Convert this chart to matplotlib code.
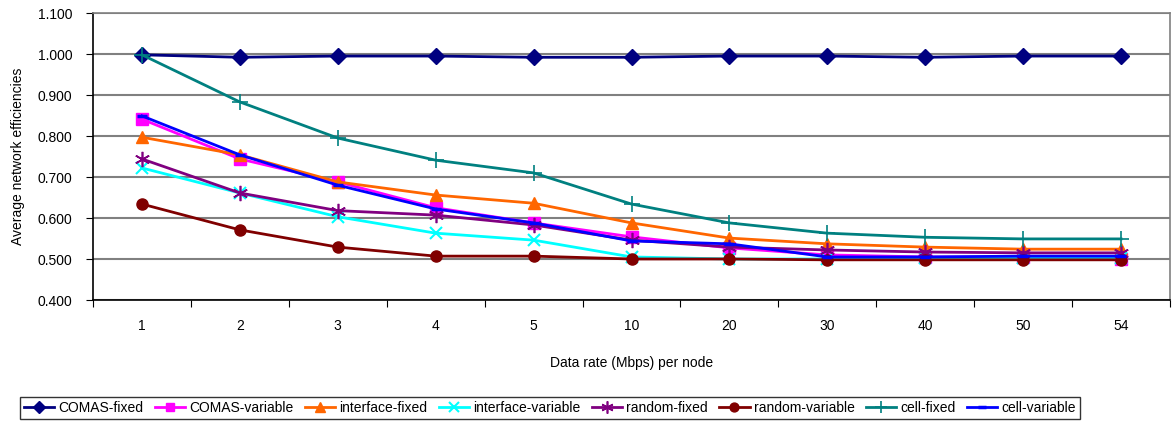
import matplotlib
matplotlib.use("Agg")
import matplotlib.pyplot as plt
import numpy as np

categories = ["1", "2", "3", "4", "5", "10", "20", "30", "40", "50", "54"]
comas_fixed = [0.998, 0.992, 0.995, 0.995, 0.992, 0.992, 0.995, 0.995, 0.992, 0.995, 0.995]
comas_variable = [0.841, 0.744, 0.688, 0.625, 0.588, 0.554, 0.527, 0.510, 0.505, 0.505, 0.500]
interface_fixed = [0.797, 0.754, 0.688, 0.656, 0.636, 0.588, 0.551, 0.537, 0.529, 0.524, 0.524]
interface_variable = [0.722, 0.661, 0.603, 0.563, 0.546, 0.505, 0.500, 0.500, 0.503, 0.503, 0.503]
random_fixed = [0.744, 0.661, 0.618, 0.607, 0.583, 0.546, 0.529, 0.522, 0.517, 0.515, 0.515]
random_variable = [0.634, 0.571, 0.529, 0.507, 0.507, 0.500, 0.500, 0.498, 0.498, 0.498, 0.498]
cell_fixed = [0.998, 0.883, 0.795, 0.741, 0.710, 0.634, 0.588, 0.563, 0.553, 0.549, 0.549]
cell_variable = [0.849, 0.754, 0.680, 0.622, 0.588, 0.544, 0.537, 0.505, 0.505, 0.507, 0.507]

series = [
    ("COMAS-fixed", comas_fixed, "#000080", "D", 8, 1.0),
    ("COMAS-variable", comas_variable, "#FF00FF", "s", 8, 1.0),
    ("interface-fixed", interface_fixed, "#FF6600", "^", 9, 1.0),
    ("interface-variable", interface_variable, "#00FFFF", "x", 9, 1.5),
    ("random-fixed", random_fixed, "#800080", (6, 2, 0), 11, 1.2),
    ("random-variable", random_variable, "#800000", "o", 8, 1.0),
    ("cell-fixed", cell_fixed, "#008080", "+", 11, 1.2),
    ("cell-variable", cell_variable, "#0000FF", "_", 7, 2.5),
]

plt.rcParams['font.family'] = ['Liberation Sans', 'DejaVu Sans']
fig = plt.figure(figsize=(11.72, 4.23), dpi=100)
ax = fig.add_axes([93/1172, 1 - 300/423, (1170-93)/1172, (300-13)/423])

x = np.arange(len(categories))
handles = []
for name, vals, color, marker, ms, mew in series:
    h, = ax.plot(x, vals, color=color, lw=2, marker=marker, markersize=ms,
                 markeredgewidth=mew, markeredgecolor=color, markerfacecolor=color,
                 label=name, clip_on=False, zorder=3)
    handles.append(h)

ax.set_xlim(-0.5, len(categories) - 0.5)
ax.set_ylim(0.4, 1.1)
ax.set_yticks(np.arange(0.4, 1.1001, 0.1))
ax.yaxis.set_major_formatter(matplotlib.ticker.FormatStrFormatter('%.3f'))
ax.yaxis.grid(True, color='#808080', lw=1.5)
ax.set_axisbelow(True)

ax.set_xticks(np.arange(-0.5, len(categories), 1.0))
ax.set_xticklabels([])
ax.set_xticks(x, minor=True)
ax.set_xticklabels(categories, minor=True)
ax.tick_params(axis='x', which='major', length=5, direction='out', color='black')
ax.tick_params(axis='x', which='minor', length=0, pad=14, labelsize=10)
ax.tick_params(axis='y', length=5, direction='out', labelsize=10, pad=10)

for s in ['top', 'right']:
    ax.spines[s].set_color('#808080')
    ax.spines[s].set_linewidth(1.2)
for s in ['left', 'bottom']:
    ax.spines[s].set_color('black')
    ax.spines[s].set_linewidth(1.2)

ax.set_ylabel("Average network efficiencies", fontsize=10, labelpad=9)
ax.set_xlabel("Data rate (Mbps) per node", fontsize=10, labelpad=16)

leg = fig.legend(handles=handles, loc='center', ncol=8,
                 bbox_to_anchor=(550/1172, 1 - 408/423), fontsize=10,
                 frameon=True, fancybox=False, edgecolor='black',
                 handlelength=2.2, handletextpad=0.3, columnspacing=0.8,
                 borderpad=0.3, markerscale=0.8)
leg.get_frame().set_linewidth(1.0)

fig.savefig("out.png", dpi=100)
